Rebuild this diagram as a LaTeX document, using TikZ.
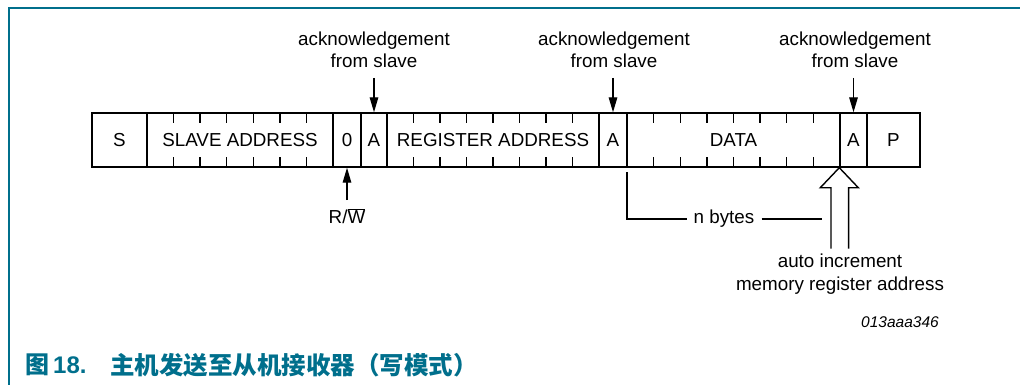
\documentclass[tikz,border=0pt]{standalone}
\usepackage{fontspec}
\setmainfont{Liberation Sans}
\newfontfamily\cjk{Noto Sans CJK SC}
\usetikzlibrary{arrows.meta}
\definecolor{frameteal}{RGB}{0,111,140}
\begin{document}
\begin{tikzpicture}[x=1pt,y=-1pt,
  cell/.style={draw,line width=1.4pt,minimum height=54pt,inner sep=0pt,
    font=\fontsize{18.8}{22}\selectfont},
  lbl/.style={font=\fontsize{18.8}{22.5}\selectfont,align=center,inner sep=0pt},
  ack/.style={-{Triangle[length=15pt,width=8.5pt]},line width=1.4pt},
  conn/.style={line width=1.4pt},
  tick/.style={line width=1.4pt}]
\useasboundingbox (0,0) rectangle (1020,385);
\draw[frameteal,line width=2.2pt] (9,385) -- (9,8) -- (1020,8);
% cells
\node[cell,minimum width=55pt]  (s)    at (119.5,140) {S};
\node[cell,minimum width=186pt] (sa)   at (240,140)   {SLAVE ADDRESS};
\node[cell,minimum width=28pt]  (zero) at (347,140)   {0};
\node[cell,minimum width=26pt]  (a1)   at (374,140)   {A};
\node[cell,minimum width=212pt] (ra)   at (493,140)   {REGISTER ADDRESS};
\node[cell,minimum width=28pt]  (a2)   at (613,140)   {A};
\node[cell,minimum width=213pt] (data) at (733.5,140) {DATA};
\node[cell,minimum width=27pt]  (a3)   at (853.5,140) {A};
\node[cell,minimum width=53pt]  (p)    at (893.5,140) {P};
% ticks
\foreach \i in {1,...,6}{
  \draw[tick] (147+\i*186/7,113) -- ++(0,10);
  \draw[tick] (147+\i*186/7,167) -- ++(0,-10);}
\foreach \i in {1,...,7}{
  \draw[tick] (387+\i*212/8,113) -- ++(0,10);
  \draw[tick] (387+\i*212/8,167) -- ++(0,-10);
  \draw[tick] (627+\i*213/8,113) -- ++(0,10);
  \draw[tick] (627+\i*213/8,167) -- ++(0,-10);}
% acknowledgements
\node[lbl] (ack1) at (374,50) {acknowledgement\\from slave};
\node[lbl] (ack2) at (614,50) {acknowledgement\\from slave};
\node[lbl] (ack3) at (855,50) {acknowledgement\\from slave};
\coordinate (t1) at (374,78);
\coordinate (t2) at (613,78);
\coordinate (t3) at (853.5,78);
\draw[ack] (t1) -- (a1.north);
\draw[ack] (t2) -- (a2.north);
\draw[ack] (t3) -- (a3.north);
% R/W
\node[lbl] (rw) at (347,216) {R/$\overline{\hbox{W}}$};
\coordinate (rwt) at (347,200);
\draw[ack] (rwt) -- (zero.south);
% n bytes
\node[lbl,inner xsep=7pt] (nb) at (724,219) {n bytes};
\coordinate (nbs) at (627,172);
\coordinate (nbe) at (822,219);
\draw[conn] (nbs) |- (nb.west);
\draw[conn] (nb.east) -- (nbe);
% hollow arrow
\draw[conn,fill=white] (a3.south west) ++(-8.3,81) -- ++(0,-61) -- ++(-10.7,0)
  -- (a3.south west) -- ++(19,20) -- ++(-9.7,0) -- ++(0,61);
\node[lbl] (auto) at (840,274) {auto increment\\memory register address};
\node[anchor=east,inner sep=0pt,font=\fontsize{15.5}{18}\selectfont\itshape] (code) at (939,322) {013aaa346};
% caption
\node[anchor=west,inner sep=0pt,text=frameteal,font=\fontsize{24}{28}\selectfont\bfseries] (capnum) at (25,365) {{\cjk 图}\,18.};
\node[anchor=west,inner sep=0pt,text=frameteal,font=\fontsize{24.5}{28}\selectfont\bfseries\cjk] (captext) at (110,365) {主机发送至从机接收器（写模式）};
\end{tikzpicture}
\end{document}
